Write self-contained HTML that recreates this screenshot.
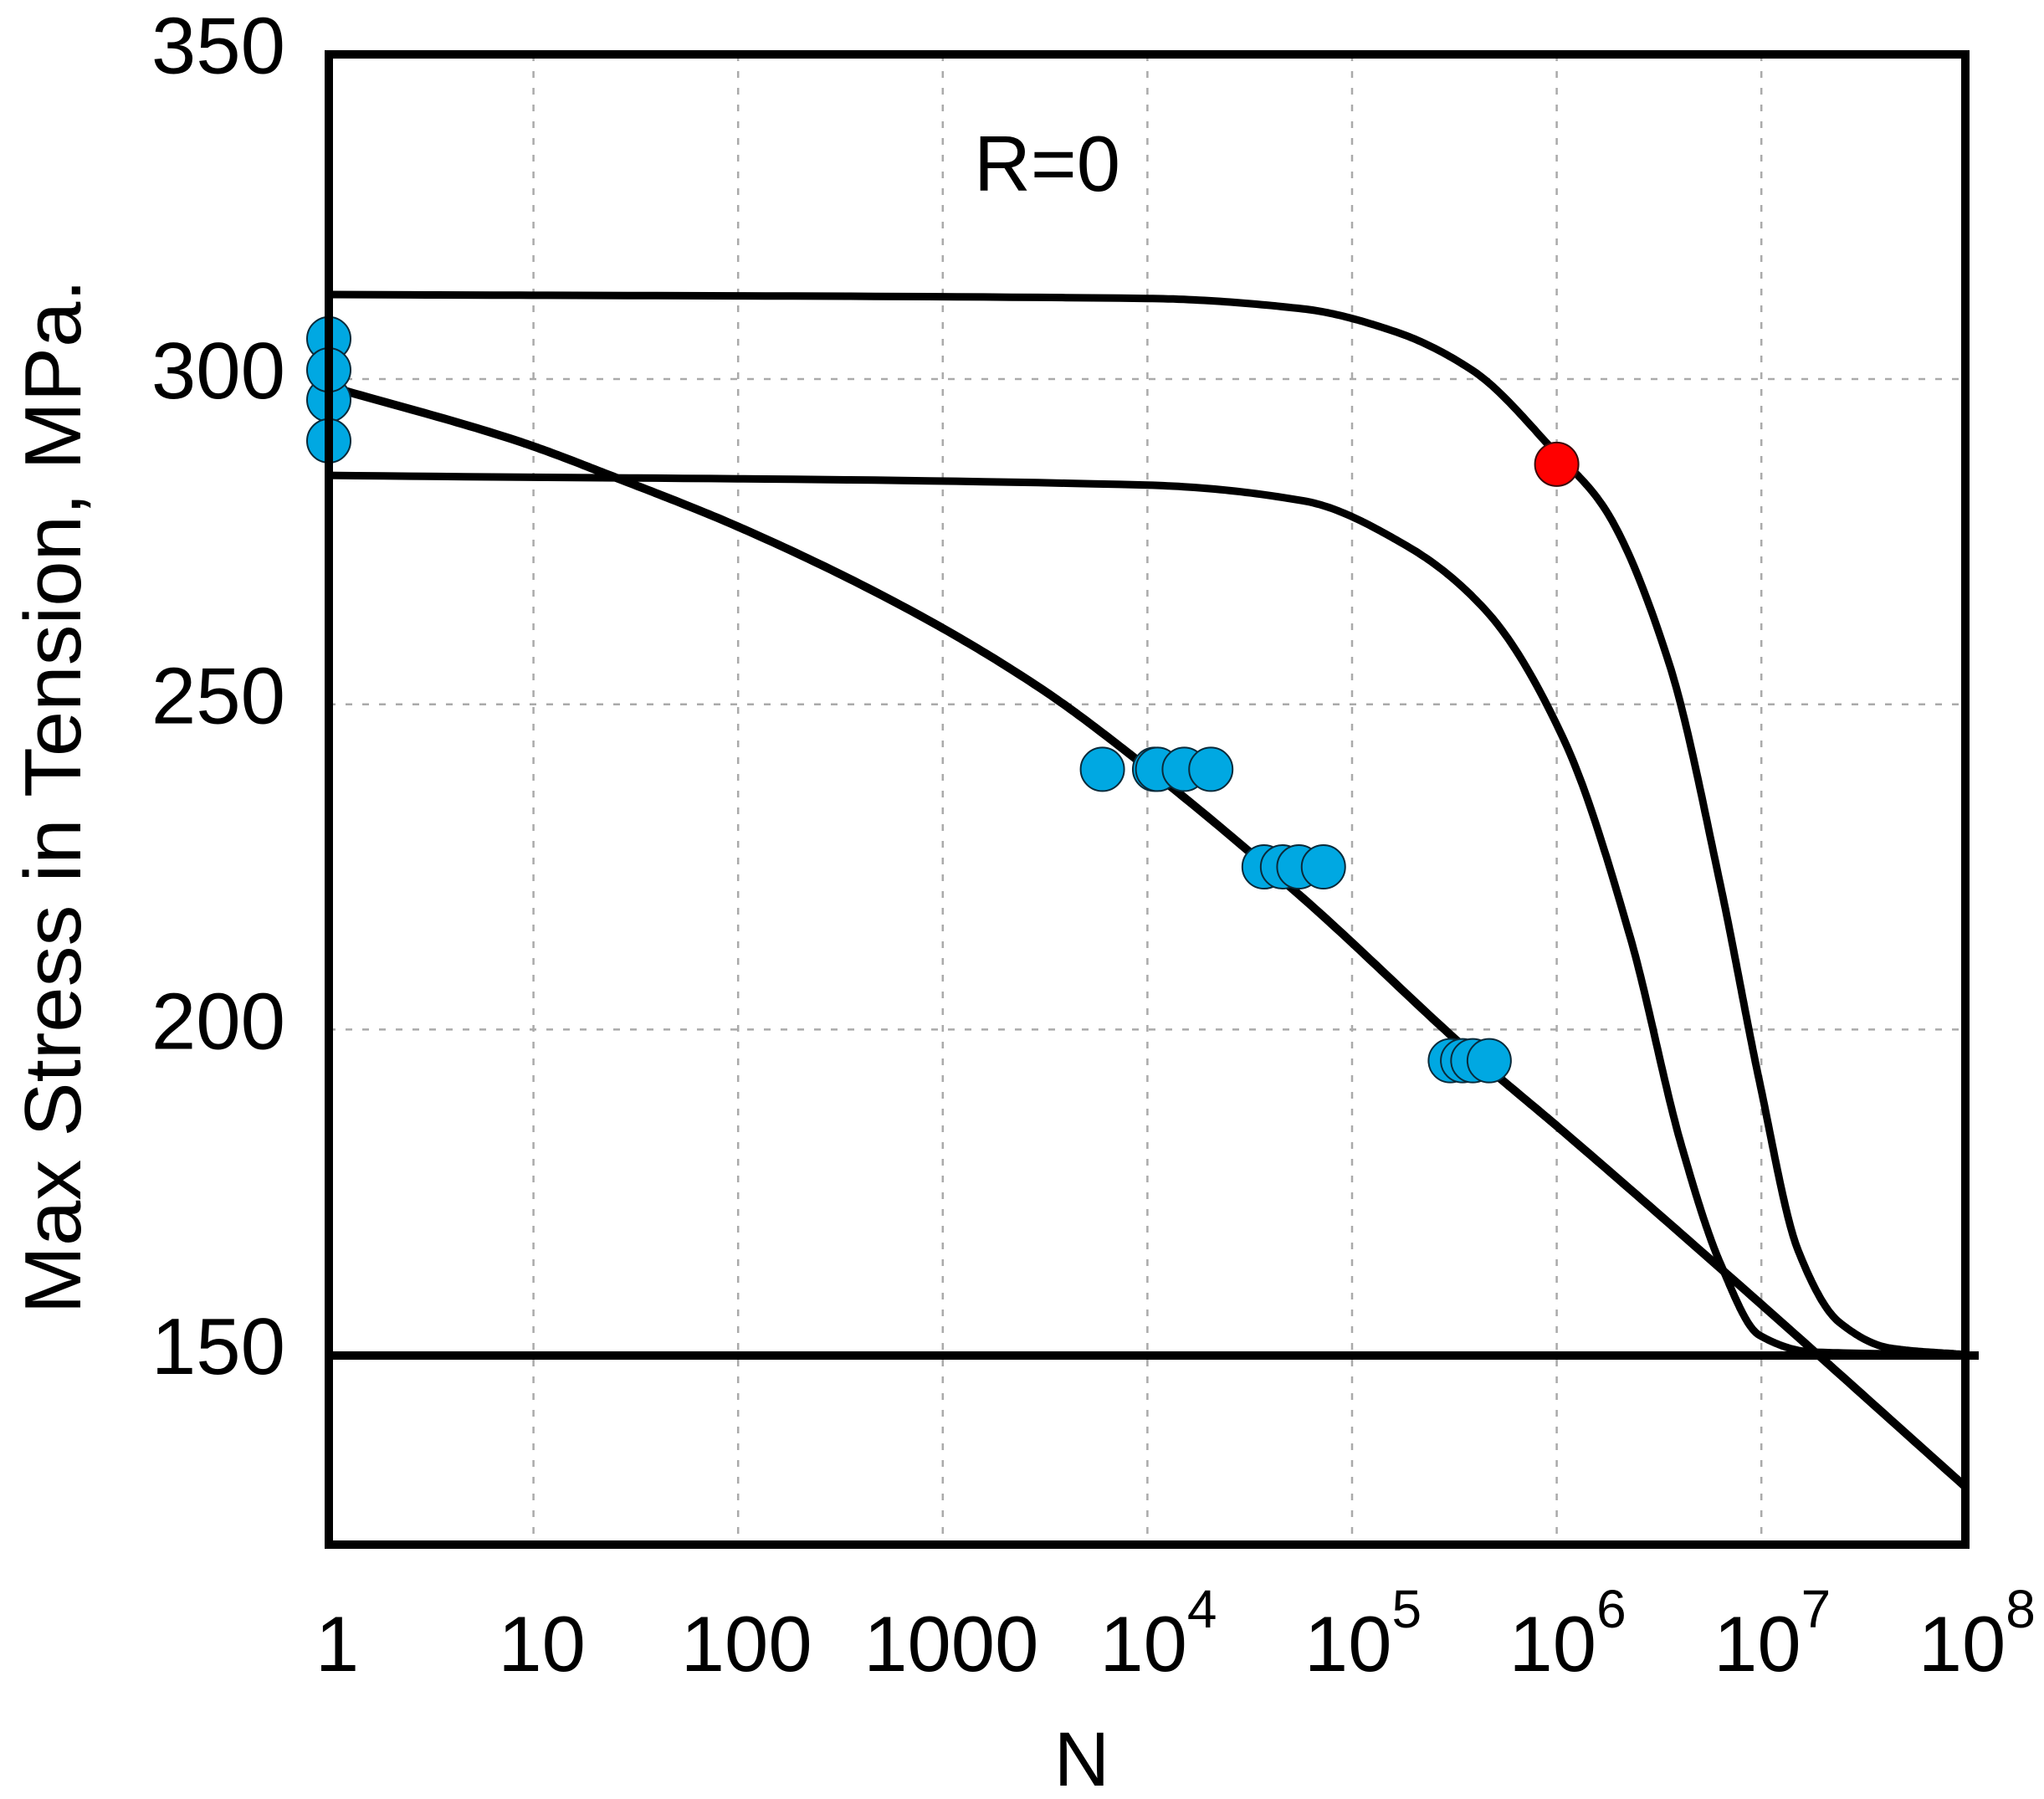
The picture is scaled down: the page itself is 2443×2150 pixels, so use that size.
<!DOCTYPE html>
<html><head><meta charset="utf-8"><style>
html,body{margin:0;padding:0;background:#fff;}
svg{display:block;}
text{font-family:"Liberation Sans",Arial,sans-serif;fill:#000;}
</style></head><body>
<svg id="chart" width="2443" height="2150" viewBox="0 0 2443 2150" xmlns="http://www.w3.org/2000/svg">
<g id="grid"></g>
<g id="curves"></g>
<g id="points"></g>
<rect x="393" y="65" width="1956" height="1781" fill="none" stroke="#000" stroke-width="10"/>
<g id="labels"></g>
<text x="1164" y="228" font-size="94">R=0</text>
<text x="1293" y="2134" font-size="92" text-anchor="middle">N</text>
<text transform="translate(96,952) rotate(-90)" font-size="96" text-anchor="middle" textLength="1237" lengthAdjust="spacingAndGlyphs">Max Stress in Tension, MPa.</text>
</svg>
<script>
// ---- data ----
const yTicks = [150, 200, 250, 300, 350];
const xTickExp = [0, 1, 2, 3, 4, 5, 6, 7, 8];
const xTickBase = ["1", "10", "100", "1000", "10", "10", "10", "10", "10"];
const xTickSup = ["", "", "", "", "4", "5", "6", "7", "8"];
// curves: log10(N) and stress
const upperLogN = [0, 4.0, 4.76, 5.21, 5.59, 6.0, 6.23, 6.55, 6.80, 6.99, 7.18, 7.38, 7.63, 8.0];
const upperS = [313, 312.4, 310.8, 307.3, 301.3, 288.5, 280.3, 256.2, 222.2, 192.1, 166, 155, 151, 150];
const lowerLogN = [0, 4.0, 4.76, 5.27, 5.66, 6.04, 6.36, 6.61, 6.80, 6.99, 7.25, 8.0];
const lowerS = [285.2, 283.7, 281.3, 274.3, 264.2, 244.2, 214.1, 182.1, 164, 153, 150.4, 150];
const snLogN = [0, 0.94, 1.39, 2.0, 2.85, 3.49, 4.0, 4.76, 5.59, 6.04, 6.99, 8.0];
const snS = [298.9, 290.3, 285.0, 277.3, 264.3, 252.2, 240.2, 220.2, 196.1, 184.1, 158, 129.6];
const enduranceS = 150;
// test points
const blueLogN = [0, 0, 0, 0, 3.78, 4.035, 4.05, 4.18, 4.31, 4.57, 4.66, 4.74, 4.86, 5.48, 5.54, 5.59, 5.67];
const blueS = [306.2, 296.8, 301.4, 290.5, 240, 240, 240, 240, 240, 225, 225, 225, 225, 195.2, 195.2, 195.2, 195.2];
const redLogN = [6.0];
const redS = [286.9];

// ---- scales ----
const X0 = 393, DEC = 244.6;
const xs = l => X0 + l * DEC;
const ys = v => 1619 - (v - 150) * 7.773;
const NS = "http://www.w3.org/2000/svg";
function mk(tag, parent, attrs) {
  const e = document.createElementNS(NS, tag);
  for (const k in attrs) e.setAttribute(k, attrs[k]);
  parent.appendChild(e);
  return e;
}
const grid = document.getElementById('grid');
const labels = document.getElementById('labels');
yTicks.forEach(v => {
  const l = mk('line', grid, {x1: 393, x2: 2349, y1: ys(v), y2: ys(v), stroke: '#aaa', 'stroke-width': 2.5, 'stroke-dasharray': '8 12'});
  
  
  const t = mk('text', labels, {x: 341, y: ys(v) + 23, 'font-size': 96, 'text-anchor': 'end'});
  t.textContent = v;
  
  
});
xTickExp.forEach((e, i) => {
  const l = mk('line', grid, {x1: xs(e), x2: xs(e), y1: 65, y2: 1846, stroke: '#aaa', 'stroke-width': 2.5, 'stroke-dasharray': '8 12'});
  
  
  const sup = xTickSup[i];
  const cx = xs(e) + (sup ? 13 : 10);
  const t = mk('text', labels, {x: cx, y: 1997, 'font-size': 94, 'text-anchor': 'middle'});
  
  
  t.appendChild(document.createTextNode(xTickBase[i]));
  if (sup) {
    const s = mk('tspan', t, {dy: -52, 'font-size': 64});
    s.textContent = sup;
  }
});
const curves = document.getElementById('curves');
// monotone cubic (Fritsch-Carlson) interpolation, sampled densely
function smoothPath(lx, sv) {
  const n = lx.length, d = [], m = new Array(n);
  for (let i = 0; i < n - 1; i++) d.push((sv[i + 1] - sv[i]) / (lx[i + 1] - lx[i]));
  m[0] = d[0]; m[n - 1] = d[n - 2];
  for (let i = 1; i < n - 1; i++) {
    if (d[i - 1] * d[i] <= 0) m[i] = 0;
    else {
      const h0 = lx[i] - lx[i - 1], h1 = lx[i + 1] - lx[i];
      const w1 = 2 * h1 + h0, w2 = h1 + 2 * h0;
      m[i] = (w1 + w2) / (w1 / d[i - 1] + w2 / d[i]);
    }
  }
  let path = `M${xs(lx[0])},${ys(sv[0])}`;
  for (let i = 0; i < n - 1; i++) {
    const h = lx[i + 1] - lx[i], steps = 30;
    for (let k = 1; k <= steps; k++) {
      const t = k / steps, t2 = t * t, t3 = t2 * t;
      const v = (2 * t3 - 3 * t2 + 1) * sv[i] + (t3 - 2 * t2 + t) * h * m[i] + (-2 * t3 + 3 * t2) * sv[i + 1] + (t3 - t2) * h * m[i + 1];
      path += ` L${xs(lx[i] + t * h).toFixed(1)},${ys(v).toFixed(1)}`;
    }
  }
  return path;
}
const endur = mk('line', curves, {x1: 393, x2: 2365, y1: ys(enduranceS) + 1, y2: ys(enduranceS) + 1, stroke: '#000', 'stroke-width': 10});


const c1 = mk('path', curves, {d: smoothPath(upperLogN, upperS), fill: 'none', stroke: '#000', 'stroke-width': 9, 'stroke-linejoin': 'round'});


const c2 = mk('path', curves, {d: smoothPath(lowerLogN, lowerS), fill: 'none', stroke: '#000', 'stroke-width': 9, 'stroke-linejoin': 'round'});


const c3 = mk('path', curves, {d: smoothPath(snLogN, snS), fill: 'none', stroke: '#000', 'stroke-width': 10, 'stroke-linejoin': 'round'});


const pts = document.getElementById('points');
blueLogN.forEach((l, i) => {
  const c = mk('circle', pts, {cx: xs(l), cy: ys(blueS[i]), r: 26, fill: '#00a8e2', stroke: '#0a2a3a', 'stroke-width': 2});
  
  
});
redLogN.forEach((l, i) => {
  const c = mk('circle', pts, {cx: xs(l), cy: ys(redS[i]), r: 26, fill: '#ff0000', stroke: '#3a0a0a', 'stroke-width': 2});
  
  
});
</script>
</body></html>
